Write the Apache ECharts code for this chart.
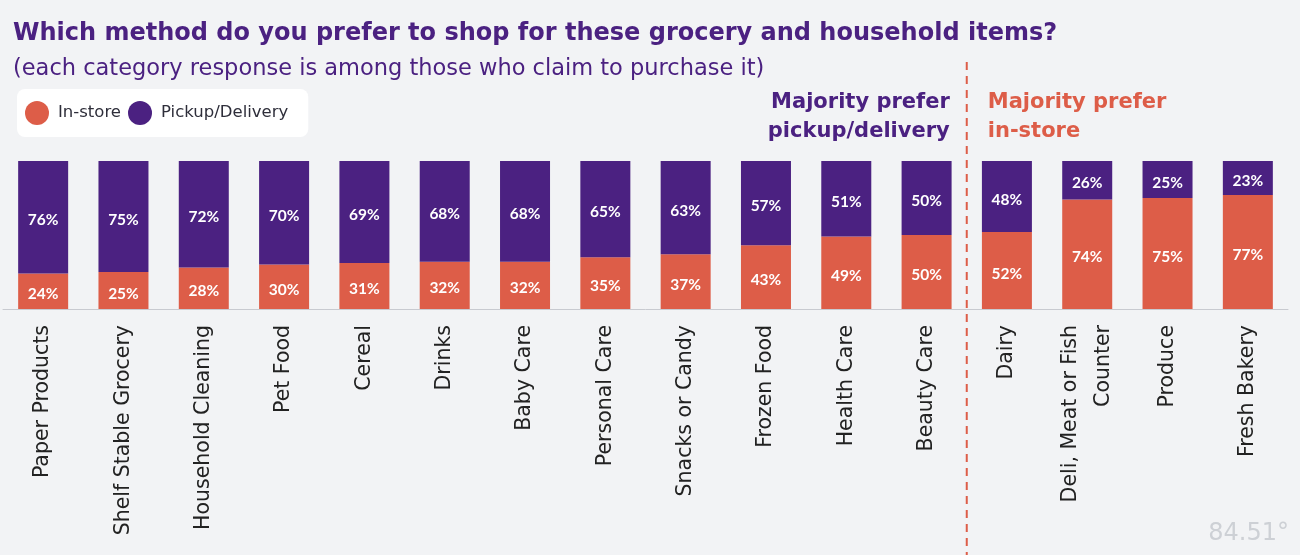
<!DOCTYPE html>
<html><head><meta charset="utf-8">
<script src="https://cdn.jsdelivr.net/npm/echarts@6/dist/echarts.min.js"></script>
<style>html,body{margin:0;padding:0;background:#f2f3f5;}#c{width:1300px;height:555px;}</style>
</head><body><div id="c"></div>
<script>
const categories = ["Paper Products","Shelf Stable Grocery","Household Cleaning","Pet Food","Cereal","Drinks","Baby Care","Personal Care","Snacks or Candy","Frozen Food","Health Care","Beauty Care","Dairy","Deli, Meat or Fish\nCounter","Produce","Fresh Bakery"];
const inStore = [24,25,28,30,31,32,32,35,37,43,49,50,52,74,75,77];
const pickup = [76,75,72,70,69,68,68,65,63,57,51,50,48,26,25,23];
const ORANGE = '#dd5d48', PURPLE = '#4b2181';
const FONT = 'DejaVu Sans';
const chart = echarts.init(document.getElementById('c'));
const lbl = {show:true, position:'inside', offset:[0,3], color:'#fff', fontWeight:'bold', fontSize:15.5, fontFamily:'Lato', formatter:p=>p.value+'%'};
chart.setOption({
  backgroundColor:'#f2f3f5',
  animation:false,
  title:[
    {text:'Which method do you prefer to shop for these grocery and household items?', left:8, top:17, textStyle:{fontFamily:FONT, fontSize:24, fontWeight:'bold', color:'#4b2181'}},
    {text:'(each category response is among those who claim to purchase it)', left:8, top:53, textStyle:{fontFamily:FONT, fontSize:22.5, fontWeight:'normal', color:'#4b2181'}}
  ],
  legend:{left:17, top:89, padding:[12,20,12,8], backgroundColor:'#ffffff', borderRadius:8, icon:'circle', itemWidth:24, itemHeight:24, itemGap:7,
    textStyle:{fontFamily:FONT, fontSize:16.5, color:'#2e2e3a', padding:[0,0,0,4]}, data:['In-store','Pickup/Delivery']},
  grid:{left:3, right:12, top:161, bottom:246},
  xAxis:{type:'category', data:categories, axisTick:{show:false}, axisLine:{lineStyle:{color:'#c8cad0'}},
    axisLabel:{rotate:90, interval:0, fontFamily:FONT, fontSize:20.5, color:'#222', margin:16, lineHeight:33}},
  yAxis:{type:'value', min:0, max:100, show:false},
  series:[
    {name:'In-store', type:'bar', stack:'a', data:inStore, barWidth:50, itemStyle:{color:ORANGE}, label:lbl},
    {name:'Pickup/Delivery', type:'bar', stack:'a', data:pickup, barWidth:50, itemStyle:{color:PURPLE}, label:lbl}
  ]
});
const xa = chart.convertToPixel({xAxisIndex:0}, 11), xb = chart.convertToPixel({xAxisIndex:0}, 12);
const xm = (xa+xb)/2;
chart.setOption({graphic:[
  {type:'line', shape:{x1:xm, y1:62, x2:xm, y2:555}, style:{stroke:ORANGE, lineWidth:2, lineDash:[8,6]}},
  {type:'text', right:1300-xm+17, top:88, style:{text:'Majority prefer\npickup/delivery', font:'bold 21px '+FONT, fill:PURPLE, textAlign:'right', lineHeight:29}},
  {type:'text', left:xm+21, top:88, style:{text:'Majority prefer\nin-store', font:'bold 21px '+FONT, fill:ORANGE, textAlign:'left', lineHeight:29}},
  {type:'text', right:11, bottom:9, style:{text:'84.51°', font:'24px '+FONT, fill:'#cdd0d5'}}
]});
</script></body></html>
